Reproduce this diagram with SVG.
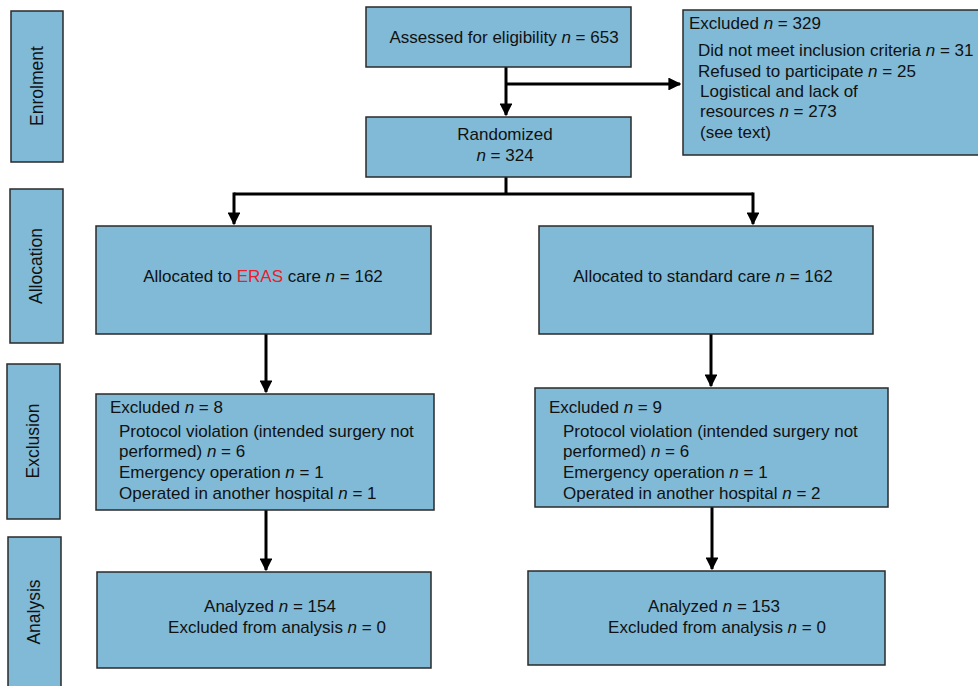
<svg xmlns="http://www.w3.org/2000/svg" width="978" height="686" viewBox="0 0 978 686">
<defs>
<style>
.box{fill:#80bad7;stroke:#2a2a2a;stroke-width:1.5}
.t{font-family:"Liberation Sans",Arial,sans-serif;font-size:17px;fill:#111}
.s{font-size:17.5px}
.c{text-anchor:middle}
.line{fill:none;stroke:#000;stroke-width:3}
.red{fill:#e8202a}
</style>
<marker id="ah" viewBox="0 0 10 10" refX="9" refY="5" markerWidth="4.3" markerHeight="4.3" orient="auto" markerUnits="strokeWidth">
<path d="M0,0 L10,5 L0,10 z" fill="#000"/>
</marker>
</defs>
<rect width="978" height="686" fill="#fff"/>

<g id="stage-enrolment"><rect class="box" x="11" y="11" width="52" height="151"/><text class="t s c" transform="translate(43,86) rotate(-90)">Enrolment</text></g>
<g id="stage-allocation"><rect class="box" x="10" y="189" width="53" height="154"/><text class="t s c" transform="translate(42,266) rotate(-90)">Allocation</text></g>
<g id="stage-exclusion"><rect class="box" x="7" y="364" width="53" height="155"/><text class="t s c" transform="translate(39,441) rotate(-90)">Exclusion</text></g>
<g id="stage-analysis"><rect class="box" x="8" y="537" width="53" height="155"/><text class="t s c" transform="translate(40,612) rotate(-90)">Analysis</text></g>

<g id="connectors">
<path class="line" d="M506,67 V115" marker-end="url(#ah)"/>
<path class="line" d="M506,84 H680" marker-end="url(#ah)"/>
<path class="line" d="M506,177 V194 M234,194 H753"/>
<path class="line" d="M234,192.5 V224" marker-end="url(#ah)"/>
<path class="line" d="M753,192.5 V224" marker-end="url(#ah)"/>
<path class="line" d="M266,334 V392" marker-end="url(#ah)"/>
<path class="line" d="M711,334 V386" marker-end="url(#ah)"/>
<path class="line" d="M266,510 V570" marker-end="url(#ah)"/>
<path class="line" d="M712,507 V569" marker-end="url(#ah)"/>
</g>

<g id="assessed"><rect class="box" x="366" y="7" width="265" height="60"/><text class="t c" x="504" y="43">Assessed for eligibility <tspan font-style="italic">n</tspan> = 653</text></g>
<g id="randomized"><rect class="box" x="366" y="117" width="265" height="60"/><text class="t c" x="505" y="140">Randomized</text><text class="t c" x="505" y="161"><tspan font-style="italic">n</tspan> = 324</text></g>
<g id="excluded-enrol"><rect class="box" x="683" y="10" width="300" height="145"/>
<text class="t" x="689" y="29">Excluded <tspan font-style="italic">n</tspan> = 329</text>
<text class="t" x="698" y="56">Did not meet inclusion criteria <tspan font-style="italic">n</tspan> = 31</text>
<text class="t" x="698" y="77">Refused to participate <tspan font-style="italic">n</tspan> = 25</text>
<text class="t" x="700" y="97">Logistical and lack of</text>
<text class="t" x="700" y="117">resources <tspan font-style="italic">n</tspan> = 273</text>
<text class="t" x="700" y="138">(see text)</text></g>

<g id="alloc-eras"><rect class="box" x="96" y="226" width="335" height="108"/><text class="t c" x="263" y="282">Allocated to <tspan class="red">ERAS</tspan> care <tspan font-style="italic">n</tspan> = 162</text></g>
<g id="alloc-std"><rect class="box" x="539" y="226" width="334" height="108"/><text class="t c" x="703" y="282">Allocated to standard care <tspan font-style="italic">n</tspan> = 162</text></g>

<g id="excl-eras"><rect class="box" x="96" y="394" width="338" height="116"/>
<text class="t" x="110" y="413">Excluded <tspan font-style="italic">n</tspan> = 8</text>
<text class="t" x="119" y="437">Protocol violation (intended surgery not</text>
<text class="t" x="119" y="457">performed) <tspan font-style="italic">n</tspan> = 6</text>
<text class="t" x="119" y="478">Emergency operation <tspan font-style="italic">n</tspan> = 1</text>
<text class="t" x="119" y="499">Operated in another hospital <tspan font-style="italic">n</tspan> = 1</text></g>
<g id="excl-std"><rect class="box" x="535" y="388" width="353" height="119"/>
<text class="t" x="549" y="413">Excluded <tspan font-style="italic">n</tspan> = 9</text>
<text class="t" x="563" y="437">Protocol violation (intended surgery not</text>
<text class="t" x="563" y="457">performed) <tspan font-style="italic">n</tspan> = 6</text>
<text class="t" x="563" y="478">Emergency operation <tspan font-style="italic">n</tspan> = 1</text>
<text class="t" x="563" y="499">Operated in another hospital <tspan font-style="italic">n</tspan> = 2</text></g>

<g id="analysis-eras"><rect class="box" x="97" y="572" width="334" height="96"/><text class="t c" x="270" y="612">Analyzed <tspan font-style="italic">n</tspan> = 154</text><text class="t c" x="277" y="633">Excluded from analysis <tspan font-style="italic">n</tspan> = 0</text></g>
<g id="analysis-std"><rect class="box" x="528" y="571" width="357" height="94"/><text class="t c" x="714" y="612">Analyzed <tspan font-style="italic">n</tspan> = 153</text><text class="t c" x="717" y="633">Excluded from analysis <tspan font-style="italic">n</tspan> = 0</text></g>
</svg>
